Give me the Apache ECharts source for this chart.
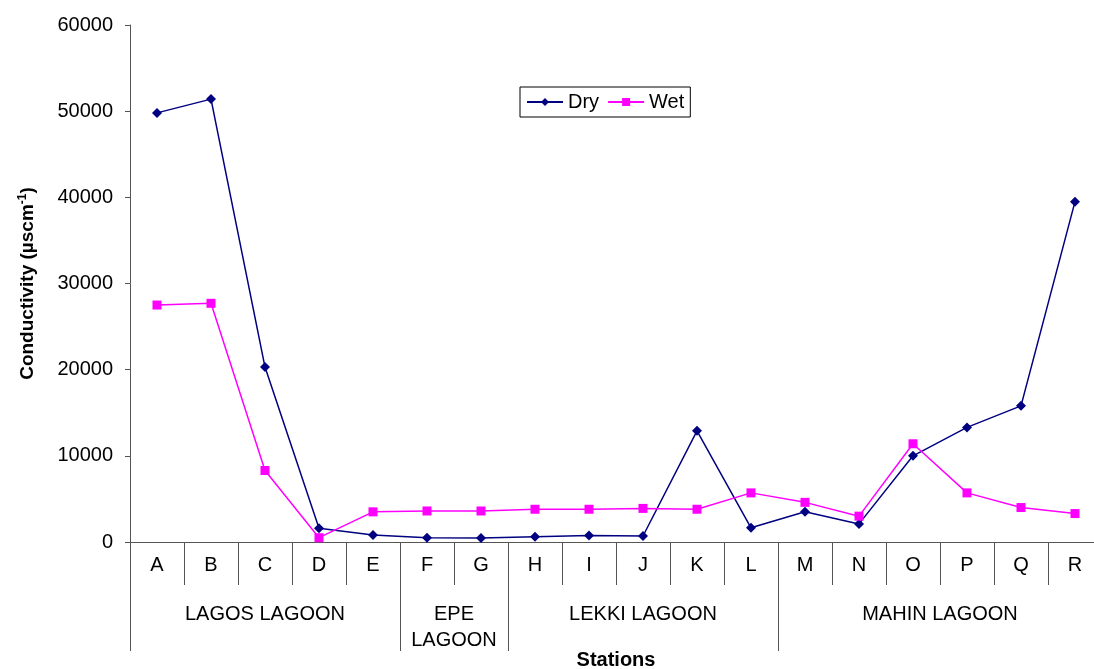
<!DOCTYPE html>
<html><head><meta charset="utf-8">
<script src="https://cdn.jsdelivr.net/npm/echarts@6/dist/echarts.min.js"></script>
<style>html,body{margin:0;padding:0;background:#fff}#c{width:1094px;height:669px}</style>
</head><body><div id="c"></div>
<script>
const stations = ['A','B','C','D','E','F','G','H','I','J','K','L','M','N','O','P','Q','R'];
const dry = [49800,51400,20300,1600,800,500,450,600,750,700,12900,1650,3500,2100,10000,13300,15800,39500];
const wet = [27500,27700,8300,500,3500,3600,3600,3800,3800,3900,3800,5700,4600,3000,11400,5700,4000,3300];
const groupNames = ['LAGOS LAGOON','EPE\nLAGOON','LEKKI LAGOON','MAHIN LAGOON'];
const groupBounds = [0,5,7,12,18];
const groupCenters = [2.5,6,9.5,15];
const yTicks = [0,10000,20000,30000,40000,50000,60000];

const font = 'Liberation Sans, Arial, sans-serif';
const axisCol = '#555';
const chart = echarts.init(document.getElementById('c'));
chart.setOption({
  animation:false,
  backgroundColor:'#fff',
  textStyle:{fontFamily:font},
  legend:{
    left:520, top:87, padding:[5,6,5,6], itemGap:8,
    borderColor:'#000', borderWidth:1,
    itemWidth:36, itemHeight:10,
    textStyle:{fontSize:20,color:'#000',fontFamily:font},
    data:['Dry','Wet']
  },
  grid:{left:130, top:25, width:972, height:517, containLabel:false, outerBoundsMode:'none'},
  xAxis:[{
    type:'category', data:stations, boundaryGap:true,
    axisLine:{lineStyle:{color:axisCol,width:1}},
    axisTick:{show:true,length:43,lineStyle:{color:axisCol}},
    axisLabel:{fontSize:20,color:'#000',margin:13,fontFamily:font},
    splitLine:{show:false}
  },{
    type:'value', min:0, max:18, position:'bottom',
    axisLine:{show:false},
    axisTick:{show:true,length:109,customValues:groupBounds,lineStyle:{color:axisCol}},
    axisLabel:{show:true,fontSize:20,color:'#000',margin:59,lineHeight:26,verticalAlign:'top',fontFamily:font,
      customValues:groupCenters,
      formatter:function(v){const i=groupCenters.indexOf(v);return i>=0?groupNames[i]:'';}},
    splitLine:{show:false},
    name:'Stations', nameLocation:'middle', nameGap:108, nameMoveOverlap:false,
    nameTextStyle:{fontSize:20,fontWeight:'bold',color:'#000',fontFamily:font,verticalAlign:'top'}
  }],
  yAxis:{
    type:'value', min:0, max:60000, interval:10000,
    axisLine:{show:true,lineStyle:{color:axisCol}},
    axisTick:{show:true,length:5,lineStyle:{color:axisCol}},
    axisLabel:{fontSize:20,color:'#000',margin:17,fontFamily:font,formatter:function(v){return String(v);}},
    splitLine:{show:false},
    name:'{a|Conductivity (µscm}{s|-1}{a|)}', nameLocation:'middle', nameGap:91, nameMoveOverlap:false,
    nameTextStyle:{fontFamily:font, rich:{
      a:{fontSize:19,fontWeight:'bold',color:'#000',fontFamily:font},
      s:{fontSize:12,fontWeight:'bold',color:'#000',fontFamily:font,padding:[0,0,10,0]}
    }}
  },
  series:[{
    name:'Dry', type:'line', data:dry, xAxisIndex:0,
    symbol:'diamond', symbolSize:10, showAllSymbol:true,
    lineStyle:{color:'#000080',width:1.5},
    itemStyle:{color:'#000080'}
  },{
    name:'Wet', type:'line', data:wet, xAxisIndex:0,
    symbol:'rect', symbolSize:9, showAllSymbol:true,
    lineStyle:{color:'#FF00FF',width:1.5},
    itemStyle:{color:'#FF00FF'}
  }]
});
</script></body></html>
